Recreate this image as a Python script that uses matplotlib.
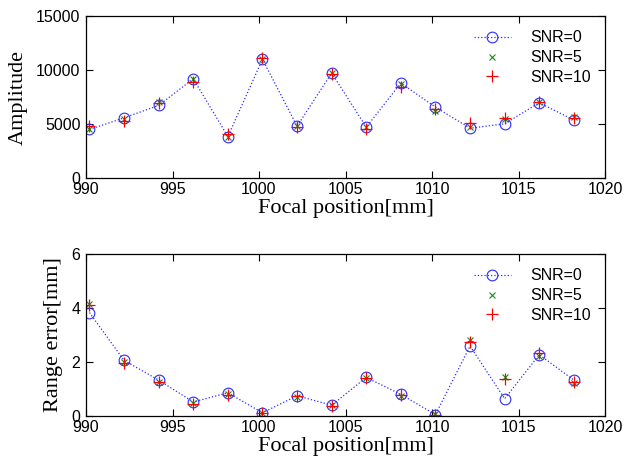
import matplotlib
import matplotlib.pyplot as plt

matplotlib.use("Agg")

focal = [990.2, 992.2, 994.2, 996.2, 998.2, 1000.2, 1002.2, 1004.2,
         1006.2, 1008.2, 1010.2, 1012.2, 1014.2, 1016.2, 1018.2]

amp_snr0 = [4500, 5570, 6720, 9190, 3840, 10990, 4800, 9720, 4710, 8790, 6560, 4610, 5020, 6970, 5360]
amp_snr5 = [4580, 5500, 7060, 9190, 3840, 11050, 4830, 9750, 4740, 8730, 6190, 4740, 5420, 7000, 5670]
amp_snr10 = [4830, 5290, 6900, 8890, 4060, 11110, 4710, 9630, 4580, 8450, 6410, 5080, 5510, 7030, 5600]

err_snr0 = [3.83, 2.06, 1.33, 0.52, 0.86, 0.12, 0.75, 0.40, 1.43, 0.80, 0.05, 2.59, 0.64, 2.27, 1.33]
err_snr5 = [4.14, 2.00, 1.26, 0.49, 0.80, 0.12, 0.72, 0.40, 1.42, 0.75, 0.07, 2.83, 1.43, 2.22, 1.22]
err_snr10 = [4.10, 1.98, 1.26, 0.43, 0.79, 0.10, 0.74, 0.38, 1.41, 0.77, 0.04, 2.74, 1.37, 2.33, 1.26]

labels = ["SNR=0", "SNR=5", "SNR=10"]
xticks = [990, 995, 1000, 1005, 1010, 1015, 1020]

plt.rcParams["font.family"] = "Liberation Sans"
serif = "Liberation Serif"


def _panel(ax, s0, s5, s10, ylim, yticks, ylabel):
	ax.plot(focal, s0, linestyle=":", linewidth=0.9, color="#2b2bff", marker="o",
		markersize=7.7, markerfacecolor="none", markeredgewidth=0.8, label=labels[0])
	ax.plot(focal, s5, linestyle="none", color="#1a8a1a", marker="x",
		markersize=4.5, markeredgewidth=0.8, label=labels[1])
	ax.plot(focal, s10, linestyle="none", color="#ff0000", marker="+",
		markersize=8.5, markeredgewidth=0.9, label=labels[2])
	ax.set_xlim(990, 1020)
	ax.set_ylim(*ylim)
	ax.set_xticks(xticks)
	ax.set_yticks(yticks)
	ax.tick_params(direction="in", top=True, right=True, labelsize=11.5, length=5, width=0.8)
	ax.tick_params(axis="x", pad=3)
	ax.tick_params(axis="y", pad=4)
	for sp in ax.spines.values():
		sp.set_linewidth(0.9)
	ax.set_xlabel("Focal position[mm]", family=serif, fontsize=16, labelpad=1)
	ax.set_ylabel(ylabel, family=serif, fontsize=16, labelpad=6)
	ax.legend(loc="upper right", frameon=False, fontsize=11.5, handlelength=2.3,
		handletextpad=1.2, labelspacing=0.3)


fig = plt.figure(figsize=(6.24, 4.65), dpi=100)
ax1 = fig.add_axes([86 / 624, 1 - 178 / 465, 519 / 624, 162 / 465])
ax2 = fig.add_axes([86 / 624, 1 - 416 / 465, 519 / 624, 162 / 465])

_panel(ax1, amp_snr0, amp_snr5, amp_snr10, (0, 15000), [0, 5000, 10000, 15000], "Amplitude")
_panel(ax2, err_snr0, err_snr5, err_snr10, (0, 6), [0, 2, 4, 6], "Range error[mm]")

fig.savefig("out.png", dpi=100)
plt.close(fig)
